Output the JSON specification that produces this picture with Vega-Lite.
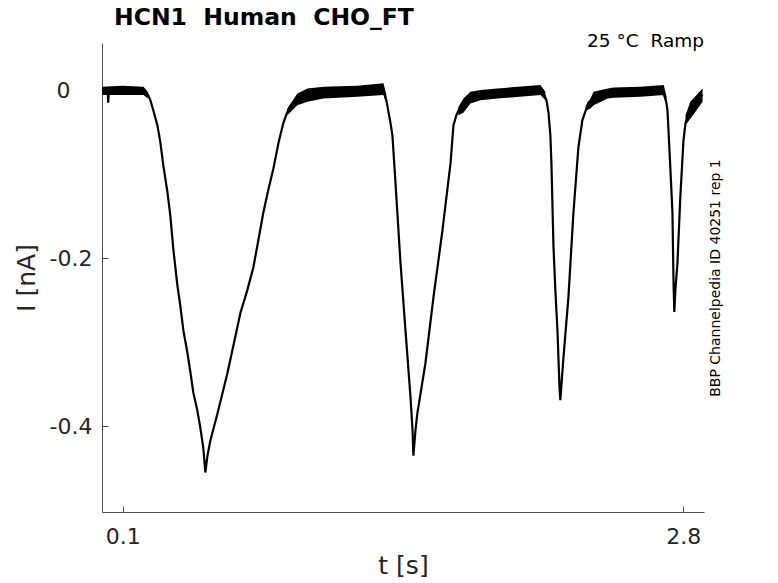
{
  "$schema": "https://vega.github.io/schema/vega-lite/v6.json",
  "width": 602,
  "height": 469,
  "autosize": {"type": "none"},
  "padding": {"left": 102, "top": 43, "right": 74, "bottom": 71},
  "background": "white",
  "config": {
    "view": {"stroke": null},
    "font": "DejaVu Sans",
    "axis": {
      "grid": false,
      "domainColor": "#4d4d4d",
      "domainWidth": 1,
      "tickColor": "#4d4d4d",
      "tickSize": -6,
      "labelFont": "DejaVu Sans",
      "labelFontSize": 22,
      "labelColor": "#262626",
      "titleFont": "DejaVu Sans",
      "titleFontSize": 25,
      "titleFontWeight": "normal",
      "titleColor": "#262626"
    }
  },
  "title": {
    "text": "HCN1\u00a0 Human\u00a0 CHO_FT",
    "anchor": "start",
    "frame": "group",
    "font": "DejaVu Sans",
    "fontSize": 23.5,
    "fontWeight": "bold",
    "color": "black",
    "dx": 12,
    "offset": 3
  },
  "datasets": {
    "trace": [
      {"t": 0.0, "I": 0.0},
      {"t": 0.027, "I": 0.001},
      {"t": 0.030, "I": -0.015},
      {"t": 0.033, "I": 0.0},
      {"t": 0.112, "I": 0.0},
      {"t": 0.185, "I": -0.001},
      {"t": 0.218, "I": -0.004},
      {"t": 0.233, "I": -0.012},
      {"t": 0.247, "I": -0.024},
      {"t": 0.267, "I": -0.042},
      {"t": 0.281, "I": -0.062},
      {"t": 0.295, "I": -0.089},
      {"t": 0.315, "I": -0.121},
      {"t": 0.329, "I": -0.149},
      {"t": 0.344, "I": -0.19},
      {"t": 0.363, "I": -0.232},
      {"t": 0.377, "I": -0.256},
      {"t": 0.392, "I": -0.286},
      {"t": 0.411, "I": -0.312},
      {"t": 0.426, "I": -0.336},
      {"t": 0.44, "I": -0.36},
      {"t": 0.459, "I": -0.381},
      {"t": 0.474, "I": -0.402},
      {"t": 0.488, "I": -0.426},
      {"t": 0.498, "I": -0.455},
      {"t": 0.508, "I": -0.435},
      {"t": 0.522, "I": -0.417},
      {"t": 0.556, "I": -0.385},
      {"t": 0.604, "I": -0.337},
      {"t": 0.633, "I": -0.304},
      {"t": 0.667, "I": -0.265},
      {"t": 0.7, "I": -0.238},
      {"t": 0.729, "I": -0.211},
      {"t": 0.753, "I": -0.179},
      {"t": 0.777, "I": -0.146},
      {"t": 0.801, "I": -0.119},
      {"t": 0.826, "I": -0.093},
      {"t": 0.85, "I": -0.063},
      {"t": 0.874, "I": -0.039},
      {"t": 0.893, "I": -0.026},
      {"t": 0.907, "I": -0.019},
      {"t": 0.931, "I": -0.012},
      {"t": 0.956, "I": -0.008},
      {"t": 1.004, "I": -0.005},
      {"t": 1.067, "I": -0.003},
      {"t": 1.149, "I": -0.002},
      {"t": 1.245, "I": -0.001},
      {"t": 1.341, "I": 0.0},
      {"t": 1.356, "I": -0.002},
      {"t": 1.37, "I": -0.012},
      {"t": 1.38, "I": -0.026},
      {"t": 1.389, "I": -0.038},
      {"t": 1.399, "I": -0.054},
      {"t": 1.413, "I": -0.107},
      {"t": 1.438, "I": -0.206},
      {"t": 1.462, "I": -0.286},
      {"t": 1.486, "I": -0.365},
      {"t": 1.496, "I": -0.405},
      {"t": 1.5, "I": -0.435},
      {"t": 1.51, "I": -0.405},
      {"t": 1.519, "I": -0.385},
      {"t": 1.558, "I": -0.325},
      {"t": 1.597, "I": -0.246},
      {"t": 1.64, "I": -0.167},
      {"t": 1.679, "I": -0.087},
      {"t": 1.693, "I": -0.042},
      {"t": 1.707, "I": -0.03},
      {"t": 1.727, "I": -0.019},
      {"t": 1.775, "I": -0.008},
      {"t": 1.847, "I": -0.005},
      {"t": 1.919, "I": -0.003},
      {"t": 2.016, "I": -0.001},
      {"t": 2.112, "I": 0.0},
      {"t": 2.127, "I": -0.004},
      {"t": 2.141, "I": -0.012},
      {"t": 2.151, "I": -0.027},
      {"t": 2.16, "I": -0.054},
      {"t": 2.165, "I": -0.087},
      {"t": 2.175, "I": -0.187},
      {"t": 2.184, "I": -0.238},
      {"t": 2.194, "I": -0.286},
      {"t": 2.204, "I": -0.354},
      {"t": 2.208, "I": -0.369},
      {"t": 2.213, "I": -0.351},
      {"t": 2.223, "I": -0.318},
      {"t": 2.247, "I": -0.246},
      {"t": 2.271, "I": -0.146},
      {"t": 2.295, "I": -0.068},
      {"t": 2.314, "I": -0.036},
      {"t": 2.343, "I": -0.015},
      {"t": 2.387, "I": -0.006},
      {"t": 2.449, "I": -0.003},
      {"t": 2.546, "I": -0.002},
      {"t": 2.69, "I": 0.0},
      {"t": 2.709, "I": -0.007},
      {"t": 2.719, "I": -0.015},
      {"t": 2.724, "I": -0.024},
      {"t": 2.733, "I": -0.068},
      {"t": 2.743, "I": -0.119},
      {"t": 2.748, "I": -0.146},
      {"t": 2.753, "I": -0.226},
      {"t": 2.757, "I": -0.264},
      {"t": 2.762, "I": -0.238},
      {"t": 2.772, "I": -0.206},
      {"t": 2.786, "I": -0.127},
      {"t": 2.801, "I": -0.06},
      {"t": 2.811, "I": -0.039},
      {"t": 2.83, "I": -0.026},
      {"t": 2.864, "I": -0.014},
      {"t": 2.893, "I": -0.006}
    ],
    "band": [
      {"seg": "a", "t": 0.0, "hi": 0.004, "lo": -0.006},
      {"seg": "a", "t": 0.1, "hi": 0.005, "lo": -0.006},
      {"seg": "a", "t": 0.2, "hi": 0.004, "lo": -0.006},
      {"seg": "a", "t": 0.22, "hi": -0.002, "lo": -0.01},
      {"seg": "b", "t": 0.893, "hi": -0.022, "lo": -0.03},
      {"seg": "b", "t": 0.941, "hi": -0.004, "lo": -0.018},
      {"seg": "b", "t": 0.99, "hi": 0.002, "lo": -0.014},
      {"seg": "b", "t": 1.067, "hi": 0.004, "lo": -0.01},
      {"seg": "b", "t": 1.23, "hi": 0.005, "lo": -0.008},
      {"seg": "b", "t": 1.356, "hi": 0.008, "lo": -0.006},
      {"seg": "b", "t": 1.37, "hi": -0.006, "lo": -0.016},
      {"seg": "c", "t": 1.717, "hi": -0.02, "lo": -0.03},
      {"seg": "c", "t": 1.741, "hi": -0.01, "lo": -0.027},
      {"seg": "c", "t": 1.775, "hi": -0.002, "lo": -0.016},
      {"seg": "c", "t": 1.823, "hi": 0.0, "lo": -0.012},
      {"seg": "c", "t": 1.905, "hi": 0.002, "lo": -0.01},
      {"seg": "c", "t": 2.112, "hi": 0.006, "lo": -0.006},
      {"seg": "c", "t": 2.136, "hi": -0.002, "lo": -0.012},
      {"seg": "d", "t": 2.329, "hi": -0.02, "lo": -0.025},
      {"seg": "d", "t": 2.353, "hi": -0.01, "lo": -0.022},
      {"seg": "d", "t": 2.368, "hi": -0.002, "lo": -0.018},
      {"seg": "d", "t": 2.436, "hi": 0.002, "lo": -0.01},
      {"seg": "d", "t": 2.465, "hi": 0.003, "lo": -0.009},
      {"seg": "d", "t": 2.595, "hi": 0.004, "lo": -0.008},
      {"seg": "d", "t": 2.706, "hi": 0.006, "lo": -0.006},
      {"seg": "d", "t": 2.72, "hi": -0.008, "lo": -0.018},
      {"seg": "e", "t": 2.811, "hi": -0.03, "lo": -0.042},
      {"seg": "e", "t": 2.834, "hi": -0.014, "lo": -0.034},
      {"seg": "e", "t": 2.864, "hi": -0.006, "lo": -0.024},
      {"seg": "e", "t": 2.893, "hi": 0.002, "lo": -0.014}
    ]
  },
  "layer": [
    {
      "data": {"name": "band"},
      "mark": {"type": "area", "color": "black", "opacity": 1},
      "encoding": {
        "x": {
          "field": "t",
          "type": "quantitative",
          "scale": {"domain": [0, 2.9], "nice": false, "zero": false},
          "axis": {
            "title": "t [s]",
            "values": [0.1, 2.8],
            "labelPadding": 20,
            "titlePadding": 6
          }
        },
        "y": {
          "field": "hi",
          "type": "quantitative",
          "scale": {"domain": [-0.502, 0.056], "nice": false, "zero": false},
          "axis": {
            "orient": "right",
            "title": "BBP Channelpedia ID 40251 rep 1",
            "labels": false,
            "ticks": false,
            "domain": false,
            "titleAngle": 270,
            "titleFontSize": 14,
            "titleColor": "black",
            "titlePadding": 18
          }
        },
        "y2": {"field": "lo"},
        "detail": {"field": "seg", "type": "nominal"}
      }
    },
    {
      "data": {"name": "trace"},
      "mark": {"type": "line", "color": "black", "strokeWidth": 2.2},
      "encoding": {
        "x": {"field": "t", "type": "quantitative"},
        "y": {
          "field": "I",
          "type": "quantitative",
          "axis": {
            "title": "I [nA]",
            "values": [-0.4, -0.2, 0],
            "labelExpr": "datum.value == 0 ? '0' : '-' + format(-datum.value, '.1f')",
            "labelPadding": {"condition": {"test": "datum.value == 0", "value": 38}, "value": 16},
            "titlePadding": 10
          }
        }
      }
    },
    {
      "data": {"values": [{"note": "25 °C\u00a0 Ramp"}]},
      "mark": {
        "type": "text",
        "align": "right",
        "baseline": "alphabetic",
        "dy": 4,
        "fontSize": 18.5,
        "font": "DejaVu Sans",
        "color": "black"
      },
      "encoding": {
        "x": {"datum": 2.9, "type": "quantitative"},
        "y": {"datum": 0.056, "type": "quantitative", "axis": null},
        "text": {"field": "note", "type": "nominal"}
      }
    }
  ],
  "resolve": {"axis": {"y": "independent"}}
}
